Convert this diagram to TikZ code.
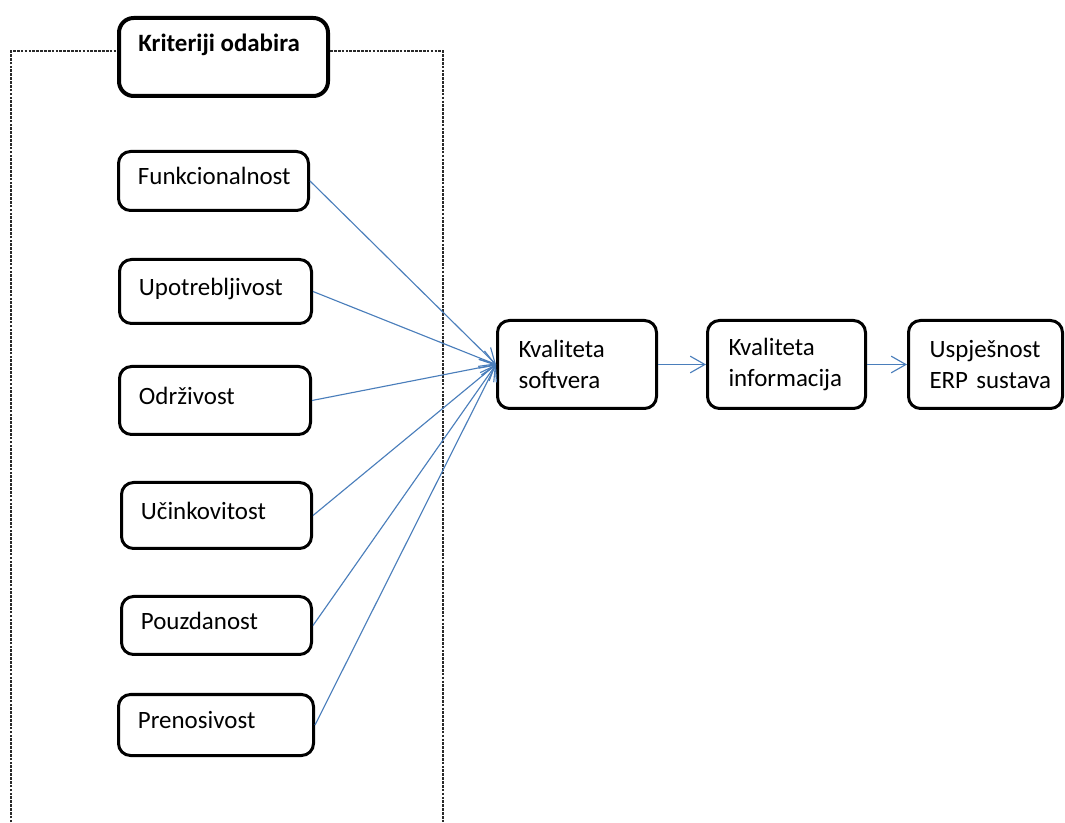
\documentclass[tikz,border=0pt]{standalone}
\usepackage{fontspec}
\setmainfont{Carlito}
\usetikzlibrary{arrows.meta}
\definecolor{arrowblue}{HTML}{4A7EBB}
\definecolor{framegray}{HTML}{2A2A2A}
\hyphenpenalty=10000
\exhyphenpenalty=10000
\begin{document}
\begin{tikzpicture}[x=0.75pt,y=-0.75pt,
  font=\fontsize{18.7}{23.5}\selectfont,
  box/.style={draw, line width=2.25pt, rounded corners=9pt, fill=white, align=left, inner ysep=0pt},
  lbox/.style={box, inner xsep=14.6pt, text height=12pt, text depth=6pt},
  rbox/.style={box, inner xsep=15.75pt, minimum height=66pt},
  titlebox/.style={draw, line width=3pt, rounded corners=11pt, fill=white, minimum width=156.75pt, minimum height=58.5pt, inner sep=0pt},
  frame/.style={draw=framegray, line width=0.8pt, dash pattern=on 2pt off 0.9pt},
  conn/.style={draw=arrowblue, line width=0.85pt, -{Straight Barb[length=11pt,width=12.5pt,line width=0.85pt]}}
]
\useasboundingbox (0,0) rectangle (1065,823);

% dashed frame
\coordinate (fbl) at (11,830);
\coordinate (ftl) at (11,51);
\coordinate (ftr) at (443,51);
\coordinate (fbr) at (443,830);
\path[frame] (fbl) -- (ftl) -- (ftr) -- (fbr);

% title box
\node[titlebox] (crit) at (223.5,57) {};
\node[anchor=base west, inner sep=0pt, font=\fontsize{18.7}{23.5}\selectfont\bfseries] (critlabel) at (138,52) {Kriteriji odabira};

% left boxes
\node[lbox, text width=113.3pt, minimum height=44.25pt] (f) at (213.5,181) {Funkcionalnost};
\node[lbox, text width=114.8pt, minimum height=48pt] (u) at (215.5,291.5) {Upotrebljivost};
\node[lbox, text width=114.05pt, minimum height=51pt] (o) at (215,400.5) {Održivost};
\node[lbox, text width=113.3pt, minimum height=49.5pt] (uc) at (216.5,515.5) {Učinkovitost};
\node[lbox, text width=113.3pt, minimum height=43.5pt] (p) at (216.5,625.5) {Pouzdanost};
\node[lbox, text width=117.05pt, minimum height=45.75pt] (pr) at (216,725) {Prenosivost};

% right boxes
\node[rbox, text width=87.75pt] (ks) at (577,364.5) {Kvaliteta\\softvera};
\node[rbox, text width=87pt] (ki) at (786.5,364.5) {Kvaliteta\\informacija};
\node[rbox, text width=84pt] (us) at (985.5,364.5) {Uspješnost\\ERP~sustava};

% connectors
\foreach \n in {f,u,o,uc,p,pr}{
  \path[conn] (\n.east) -- (ks.west);
}
\path[conn] (ks.east) -- (ki.west);
\path[conn] (ki.east) -- (us.west);
\end{tikzpicture}
\end{document}
